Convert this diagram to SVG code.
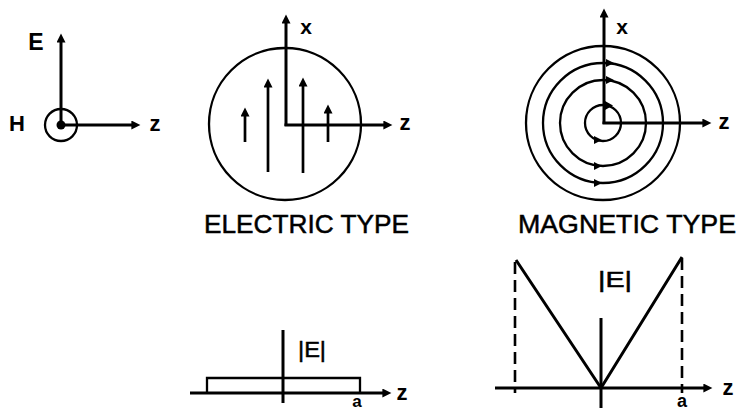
<svg xmlns="http://www.w3.org/2000/svg" width="738" height="412" viewBox="0 0 738 412">
<defs>
<style>
.ax{stroke:#000;stroke-width:3;fill:none}
.ln{stroke:#000;stroke-width:2.3;fill:none}
.ar{stroke:#000;stroke-width:2.7;fill:none}
.ds{stroke:#000;stroke-width:2.6;fill:none;stroke-dasharray:12 6}
.t{font-family:"Liberation Sans",Arial,sans-serif;fill:#000;stroke:#000;stroke-width:0.5}
.lab{font-family:"Liberation Sans",Arial,sans-serif;font-weight:bold;fill:#000}
.hd{fill:#000}
</style>
<marker id="ah" viewBox="0 0 10 10" refX="4" refY="5" markerWidth="10" markerHeight="9" markerUnits="userSpaceOnUse" orient="auto"><path d="M0,0 L10,5 L0,10 z" fill="#000"/></marker>
</defs>
<rect width="738" height="412" fill="#fff"/>

<g id="ref-axes">
<circle class="ln" cx="61" cy="125" r="16"/>
<circle cx="61" cy="125" r="4.5" fill="#000"/>
<line class="ax" x1="61" y1="125" x2="61" y2="39" marker-end="url(#ah)"/>
<line class="ax" x1="61" y1="125" x2="135" y2="125" marker-end="url(#ah)"/>
<text class="lab" x="36" y="50" font-size="23" text-anchor="middle">E</text>
<text class="lab" x="17" y="131" font-size="22" text-anchor="middle">H</text>
<text class="lab" x="155" y="131" font-size="22" text-anchor="middle">z</text>
</g>

<g id="electric-type">
<circle class="ln" cx="285" cy="124" r="76"/>
<line class="ax" x1="286" y1="126" x2="286" y2="20" marker-end="url(#ah)"/>
<line class="ax" x1="284.5" y1="125" x2="387" y2="125" marker-end="url(#ah)"/>
<line class="ar" x1="245" y1="142" x2="245" y2="113" marker-end="url(#ah)"/>
<line class="ar" x1="268" y1="172" x2="268" y2="84" marker-end="url(#ah)"/>
<line class="ar" x1="303" y1="173" x2="303" y2="83" marker-end="url(#ah)"/>
<line class="ar" x1="328" y1="142" x2="328" y2="110" marker-end="url(#ah)"/>
<text class="lab" x="306" y="34" font-size="21" text-anchor="middle">x</text>
<text class="lab" x="405" y="130" font-size="22" text-anchor="middle">z</text>
<text class="t" x="204" y="233" font-size="26" textLength="205" lengthAdjust="spacingAndGlyphs">ELECTRIC TYPE</text>
</g>

<g id="magnetic-type">
<circle class="ln" cx="603" cy="123" r="77"/>
<circle class="ln" cx="603" cy="123" r="60"/>
<circle class="ln" cx="603" cy="123" r="43"/>
<circle class="ln" cx="603" cy="123" r="18"/>
<line class="ax" x1="604" y1="124" x2="604" y2="14" marker-end="url(#ah)"/>
<line class="ax" x1="602.5" y1="123" x2="706" y2="123" marker-end="url(#ah)"/>
<path class="hd" d="M606,59 L614,63 L606,67 z"/>
<path class="hd" d="M606,76 L614,80 L606,84 z"/>
<path class="hd" d="M605,101 L613,105.5 L605,110 z"/>
<path class="hd" d="M594,136 L602,140 L594,144 z"/>
<path class="hd" d="M594,162 L602,166 L594,170 z"/>
<path class="hd" d="M594,179 L602,183 L594,187 z"/>
<text class="lab" x="622" y="34" font-size="21" text-anchor="middle">x</text>
<text class="lab" x="724" y="129" font-size="22" text-anchor="middle">z</text>
<text class="t" x="518" y="233" font-size="26" textLength="218" lengthAdjust="spacingAndGlyphs">MAGNETIC TYPE</text>
</g>

<g id="electric-plot">
<line class="ax" x1="190" y1="393" x2="386" y2="393" marker-end="url(#ah)"/>
<line class="ax" x1="283" y1="330" x2="283" y2="403"/>
<path class="ln" d="M207,393 V378 H360 V393"/>
<text class="t" x="298" y="357" font-size="22" textLength="28" lengthAdjust="spacingAndGlyphs">|E|</text>
<text class="lab" x="402" y="400" font-size="22" text-anchor="middle">z</text>
<text class="lab" x="357" y="407" font-size="17" text-anchor="middle">a</text>
</g>

<g id="magnetic-plot">
<line class="ax" x1="495" y1="388" x2="707" y2="388" marker-end="url(#ah)"/>
<line class="ax" x1="601" y1="318" x2="601" y2="408"/>
<path class="ax" d="M516,260 L601,388 L682,257" stroke-linejoin="round"/>
<line class="ds" x1="515" y1="262" x2="515" y2="393"/>
<line class="ds" x1="682" y1="258" x2="682" y2="393"/>
<text class="t" x="598" y="287" font-size="22" textLength="34" lengthAdjust="spacingAndGlyphs">|E|</text>
<text class="lab" x="728" y="395" font-size="22" text-anchor="middle">z</text>
<text class="lab" x="682" y="407" font-size="18" text-anchor="middle">a</text>
</g>
</svg>
